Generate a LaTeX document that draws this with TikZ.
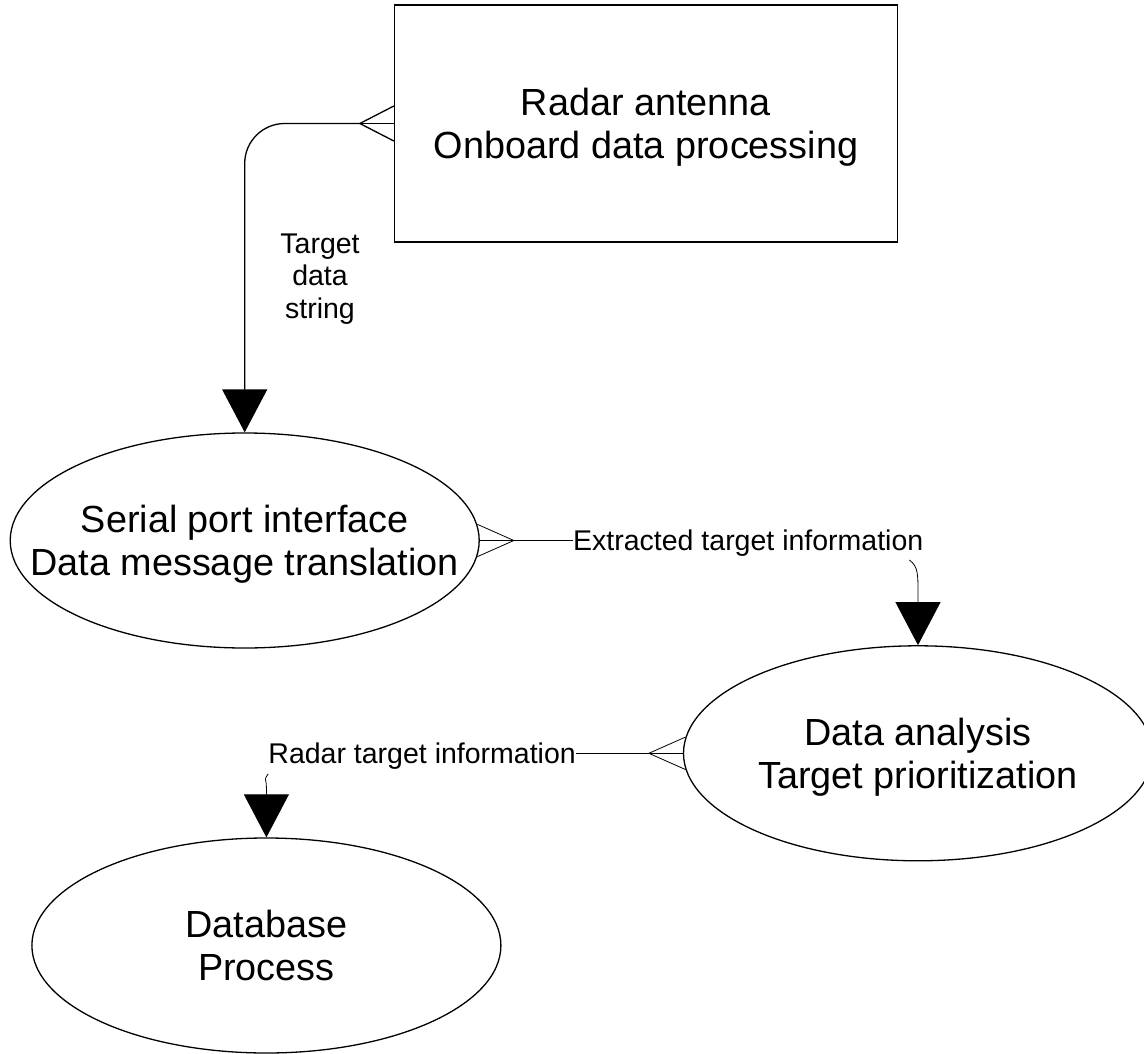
\documentclass[tikz,border=0pt]{standalone}
\usepackage{fontspec}
\setmainfont{Liberation Sans}
\usetikzlibrary{arrows.meta,shapes.geometric,calc}
\newcommand\nodepthline[1]{\raisebox{0pt}[\height][0pt]{#1}}
\begin{document}
\begin{tikzpicture}[x=1pt,y=-1pt,
  shapetext/.style={font=\fontsize{37.8}{43.5}\selectfont, align=center, inner sep=0pt},
  procbox/.style={shapetext, draw, line width=1.3pt, minimum width=503pt, minimum height=237pt},
  proc/.style={shapetext, draw, ellipse, line width=1.3pt, inner xsep=-70pt, inner ysep=-10pt, minimum width=469pt, minimum height=215pt},
  lbl/.style={font=\fontsize{28.5}{32.5}\selectfont, inner sep=0pt, align=center},
  flow/.style={line width=0.8pt},
  thickflow/.style={line width=1.3pt},
  bigtip/.style={-{Triangle[width=45pt,length=43pt]}},
]
\useasboundingbox (0,0) rectangle (1144,1054);

% processes
\node[procbox] (radar) at (646,123.5) {Radar antenna\\\nodepthline{Onboard data processing}};
\node[proc] (serial) at (244.7,540.5) {Serial port interface\\\nodepthline{Data message translation}};
\node[proc] (analysis) at (918,753.3) {Data analysis\\\nodepthline{Target prioritization}};
\node[proc] (database) at (266.4,945.5) {Database\\Process};

% labels
\node[lbl] (tds) at (320,279) {Target\\data\\string};
\node[lbl, anchor=west] (eti) at (573,540.5) {\nodepthline{Extracted target information}};
\node[lbl, anchor=east] (rti) at (576,753.3) {\nodepthline{Radar target information}};

% connector 1: radar -> serial
\coordinate (cf1) at ($(radar.west)+(-34,0)$);
\draw[thickflow] (cf1) -- (radar.west);
\draw[thickflow] (cf1) -- ($(radar.west)+(0,-17.5)$);
\draw[thickflow] (cf1) -- ($(radar.west)+(0,17.5)$);
\draw[thickflow, bigtip, rounded corners=40pt] (cf1) -- (cf1 -| serial.north) -- (serial.north);

% connector 2: serial -> analysis
\coordinate (cf2) at ($(serial.east)+(34,0)$);
\draw[flow] (cf2) -- (serial.east);
\draw[flow] (cf2) -- (serial.4);
\draw[flow] (cf2) -- (serial.-4);
\draw[flow] (cf2) -- (eti.west);
\draw[flow, bigtip] ($(eti.south east)+(-14,9)$) .. controls +(9,7) and +(0,-24) .. ($(analysis.north)+(0,-47)$) -- (analysis.north);

% connector 3: analysis -> database
\coordinate (cf3) at ($(analysis.west)+(-34,0)$);
\draw[flow] (cf3) -- (analysis.west);
\draw[flow] (cf3) -- (analysis.176);
\draw[flow] (cf3) -- (analysis.184);
\draw[flow] (cf3) -- (rti.east);
\draw[flow, bigtip] ($(rti.south west)+(0,10)$) .. controls +(-5,7) and +(0,-10) .. ($(database.north)+(0,-50)$) -- (database.north);
\end{tikzpicture}
\end{document}
